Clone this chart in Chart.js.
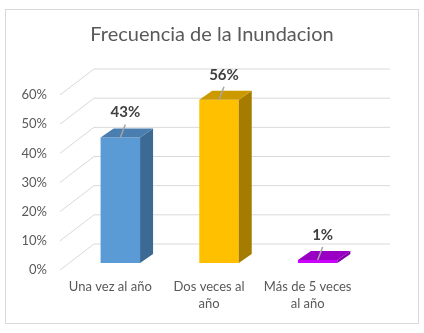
<!DOCTYPE html>
<html>
<head>
<meta charset="utf-8">
<script src="https://cdn.jsdelivr.net/npm/chart.js@4/dist/chart.umd.min.js"></script>
<style>
  html, body { margin: 0; padding: 0; background: #ffffff; }
  #grafico { display: block; }
</style>
</head>
<body>
<canvas id="grafico" width="424" height="333"></canvas>
<script>
// datos
let categorias = ['Una vez al año', ['Dos veces al', 'año'], ['Más de 5 veces', 'al año']];
let porcentajes = [43, 56, 1];
let etiquetasY = [0, 10, 20, 30, 40, 50, 60];

// colores de cada barra: frente, arriba, lado
let coloresFrente = ['#5B9BD5', '#FFC000', '#CC00FF'];
let coloresArriba = ['#4A7EB0', '#CC9A00', '#9900C4'];
let coloresLado = ['#3D6A94', '#A67C00', '#8000A8'];

let fuente = 'Lato, "Open Sans", sans-serif';

// profundidad de las barras y del fondo
const barraDx = 13, barraDy = -9;
const fondoDy = -19, planoDy = 7;

const efecto3D = {
    id: 'efecto3D',
    beforeDraw(chart) {
        let ctx = chart.ctx;
        ctx.save();
        ctx.fillStyle = '#ffffff';
        ctx.fillRect(0, 0, chart.width, chart.height);
        ctx.strokeStyle = '#D9D9D9';
        ctx.lineWidth = 1;
        ctx.strokeRect(5.5, 9.5, 413, 314);
        ctx.restore();
    },
    beforeDatasetsDraw(chart) {
        // lineas de la grilla con perspectiva
        let ctx = chart.ctx;
        let y = chart.scales.y;
        let area = chart.chartArea;
        ctx.save();
        ctx.strokeStyle = '#D9D9D9';
        ctx.lineWidth = 1;
        etiquetasY.forEach(v => {
            let py = y.getPixelForValue(v);
            ctx.beginPath();
            ctx.moveTo(60, py + planoDy);
            ctx.lineTo(94, py + fondoDy);
            ctx.lineTo(area.right + 23, py + fondoDy);
            ctx.stroke();
        });
        ctx.restore();
    },
    afterDatasetsDraw(chart) {
        let ctx = chart.ctx;
        let meta = chart.getDatasetMeta(0);
        ctx.save();
        meta.data.forEach((barra, i) => {
            let izq = barra.x - barra.width / 2;
            let der = barra.x + barra.width / 2;
            let arriba = barra.y;
            let abajo = barra.base;

            // cara lateral
            ctx.fillStyle = coloresLado[i];
            ctx.beginPath();
            ctx.moveTo(der, arriba);
            ctx.lineTo(der + barraDx, arriba + barraDy);
            ctx.lineTo(der + barraDx, abajo + barraDy);
            ctx.lineTo(der, abajo);
            ctx.closePath();
            ctx.fill();

            // cara superior
            ctx.fillStyle = coloresArriba[i];
            ctx.beginPath();
            ctx.moveTo(izq, arriba);
            ctx.lineTo(izq + barraDx, arriba + barraDy);
            ctx.lineTo(der + barraDx, arriba + barraDy);
            ctx.lineTo(der, arriba);
            ctx.closePath();
            ctx.fill();

            // etiqueta y linea guia
            let lx = barra.x + 5;
            let ly = arriba - 25;
            ctx.strokeStyle = '#A6A6A6';
            ctx.lineWidth = 1.5;
            ctx.beginPath();
            ctx.moveTo(lx, ly + 12);
            ctx.lineTo(barra.x, arriba);
            ctx.stroke();

            ctx.fillStyle = '#404040';
            ctx.font = 'bold 15px ' + fuente;
            ctx.textAlign = 'center';
            ctx.textBaseline = 'middle';
            ctx.fillText(porcentajes[i] + '%', lx, ly);
        });
        ctx.restore();
    }
};

let ctx = document.getElementById('grafico').getContext('2d');
let chart = new Chart(ctx, {
    type: 'bar',
    data: {
        labels: categorias,
        datasets: [{
            data: porcentajes,
            backgroundColor: coloresFrente,
            borderWidth: 0,
            barPercentage: 0.4,
            categoryPercentage: 1
        }]
    },
    options: {
        responsive: false,
        animation: false,
        devicePixelRatio: 1,
        layout: { padding: 0 },
        plugins: {
            legend: { display: false },
            tooltip: { enabled: false },
            title: {
                display: true,
                text: 'Frecuencia de la Inundacion',
                color: '#595959',
                font: { family: fuente, size: 20, weight: 'normal', lineHeight: 1.2 },
                padding: { top: 23, bottom: 41 }
            }
        },
        scales: {
            x: {
                grid: { display: false, drawTicks: false },
                border: { display: false },
                ticks: {
                    color: '#595959',
                    font: { family: fuente, size: 13, lineHeight: 1.3 },
                    padding: 15,
                    labelOffset: -10,
                    maxRotation: 0,
                    autoSkip: false
                },
                afterFit(scale) { scale.height = 70; }
            },
            y: {
                min: 0,
                max: 60,
                grid: { display: false, drawTicks: false },
                border: { display: false },
                ticks: {
                    stepSize: 10,
                    color: '#595959',
                    font: { family: fuente, size: 13 },
                    padding: 24,
                    labelOffset: 7,
                    callback: v => v + '%'
                },
                afterFit(scale) { scale.width = 71; }
            },
            // eje vacio a la derecha para dejar el espacio del fondo
            derecha: {
                position: 'right',
                grid: { display: false, drawTicks: false },
                border: { display: false },
                ticks: { display: false },
                afterFit(scale) { scale.width = 57; }
            }
        }
    },
    plugins: [efecto3D]
});
</script>
</body>
</html>
